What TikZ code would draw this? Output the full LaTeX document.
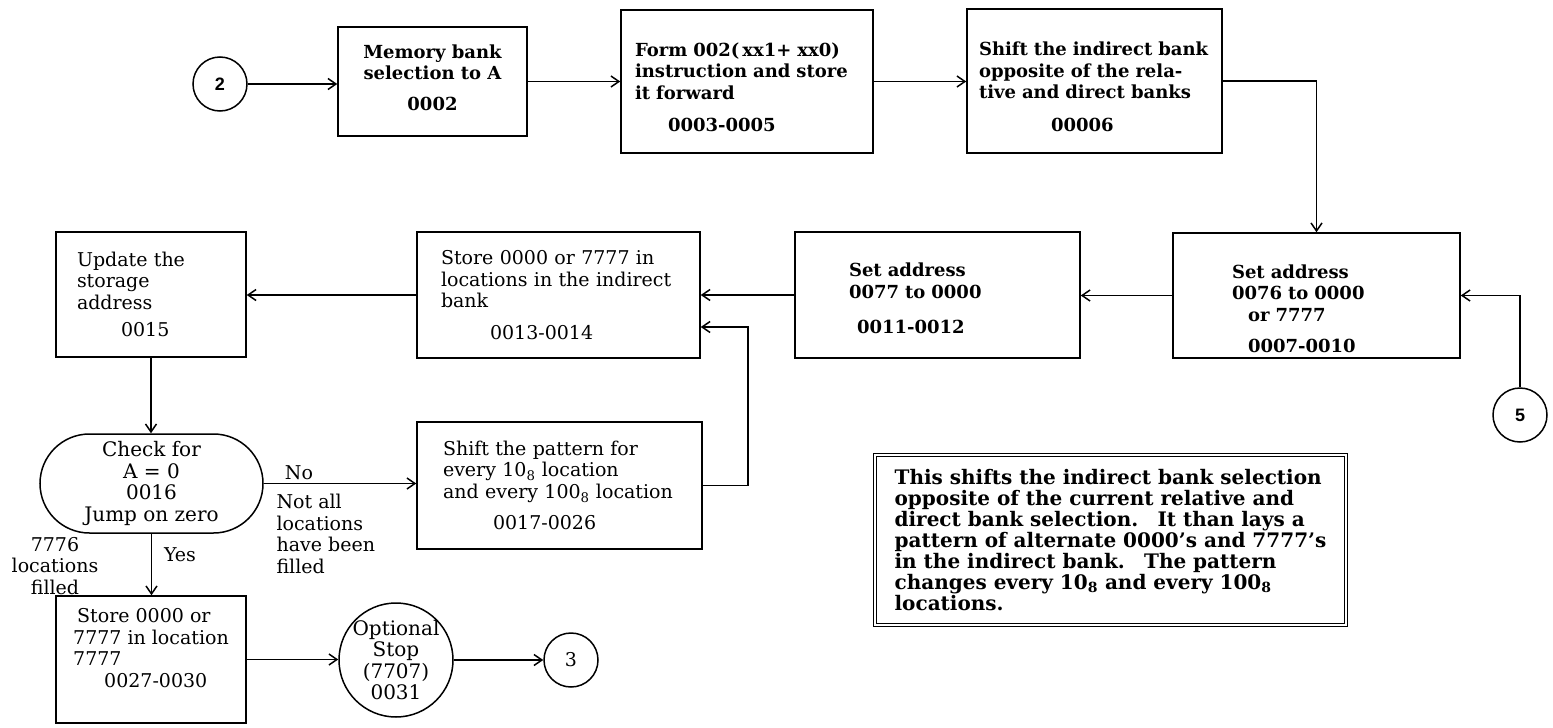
\documentclass[tikz,border=0pt]{standalone}
\usepackage{fontspec}
\setmainfont{DejaVu Serif}
\setsansfont{Liberation Sans}
\usetikzlibrary{arrows.meta,shapes.misc}
\begin{document}
\begin{tikzpicture}[x=1pt,y=-1pt,
    txt/.style={font=\fontsize{19}{21.5}\selectfont},
    btxt/.style={font=\bfseries\fontsize{18}{21.5}\selectfont},
    box/.style={draw,line width=1.5pt,inner sep=0pt,align=left,txt},
    bbox/.style={box,btxt},
    conn/.style={circle,draw,line width=1.5pt,minimum size=54pt,inner sep=0pt},
    flow/.style={line width=1.5pt,-{Straight Barb[length=8pt,width=11pt,line width=1.5pt]}}]
\useasboundingbox (0,0) rectangle (1553,728);
\node[conn,font=\sffamily\bfseries\fontsize{18}{18}\selectfont] (c2) at (220,84) {2};
\node[bbox,align=center,minimum width=189pt,minimum height=109pt,text depth=8.5pt] (mem) at (432.5,81.5) {Memory bank\\selection to A\\[9pt]0002};
\node[bbox,minimum width=252pt,minimum height=143pt,inner xsep=14pt,text width=224pt,text height=25pt] (form) at (747,81.5) {Form 002(\,xx1+ xx0)\\instruction and store\\it forward\\[11pt]\hspace*{33pt}0003-0005};
\node[bbox,minimum width=255pt,minimum height=144pt,inner xsep=12pt,text width=231pt,text height=25pt] (sh) at (1094.5,81) {Shift the indirect bank\\opposite of the rela-\\tive and direct banks\\[11pt]\hspace*{72pt}00006};
\node[bbox,minimum width=287pt,minimum height=125pt,inner xsep=59pt,text width=169pt,text height=40pt] (s76) at (1316.5,295.5) {Set address\\0076 to 0000\\\hspace*{16pt}or 7777\\[10pt]\hspace*{16pt}0007-0010};
\node[conn,font=\sffamily\bfseries\fontsize{18}{18}\selectfont] (c5) at (1520,415) {5};
\node[bbox,minimum width=285pt,minimum height=126pt,inner xsep=54pt,text width=177pt,text height=21pt] (s77) at (937.5,295) {Set address\\0077 to 0000\\[14pt]\hspace*{8pt}0011-0012};
\node[box,minimum width=283pt,minimum height=126pt,inner xsep=24pt,text width=235pt] (sto) at (558.5,295) {Store 0000 or 7777 in\\locations in the indirect\\bank\\[10pt]\hspace*{49pt}0013-0014};
\node[box,minimum width=190pt,minimum height=125pt,inner xsep=21pt,text width=148pt] (upd) at (151,294.5) {Update the\\storage\\address\\[6pt]\hspace*{44pt}0015};
\node[draw,rounded rectangle,line width=1.5pt,minimum width=223pt,minimum height=99pt,inner sep=0pt,align=center,font=\fontsize{20}{21.5}\selectfont] (chk) at (151.5,483.5) {Check for\\A = 0\\0016\\Jump on zero};
\node[box,minimum width=285pt,minimum height=127pt,inner xsep=26pt,text width=233pt] (pat) at (559.5,485.5) {Shift the pattern for\\every 10\textsubscript{8} location\\and every 100\textsubscript{8} location\\[10pt]\hspace*{50pt}0017-0026};
\node[box,minimum width=190pt,minimum height=127pt,text depth=23pt] (st7) at (151,659.5) {\hspace*{4pt}Store 0000 or\\7777 in location\\7777\\\hspace*{31pt}0027-0030};
\node[conn,minimum size=114pt,label={[font=\fontsize{20}{21.5}\selectfont,align=center]center:Optional\\Stop\\(7707)\\0031}] (opt) at (396,660) {};
\node[conn,txt] (c3) at (571,660) {3};
\node[txt] (no) at (299,473) {No};
\node[txt,align=left,anchor=west] (notall) at (273,534) {Not all\\locations\\have been\\filled};
\node[txt] (yes) at (180,555) {Yes};
\node[txt,align=center] (filled) at (55,566) {7776\\locations\\filled};
\node[draw,double,line width=1.2pt,double distance=2.5pt,align=left,minimum width=471pt,minimum height=170pt,inner sep=0pt,font=\bfseries\fontsize{20}{21}\selectfont] (note) at (1110.5,540) {This shifts the indirect bank selection\\opposite of the current relative and\\direct bank selection.\hspace{0.5em} It than lays a\\pattern of alternate 0000's and 7777's\\in the indirect bank.\hspace{0.5em} The pattern\\changes every 10\textsubscript{8} and every 100\textsubscript{8}\\locations.};
\draw[flow] (c2.east) -- (c2.east -| mem.west);
\draw[flow] (mem.east) -- (mem.east -| form.west);
\draw[flow] (form.east) -- (form.east -| sh.west);
\draw[flow] (sh.east) -| (s76.north);
\draw[flow] (c5.north) |- (s76.east);
\draw[flow] (s76.west) -- (s76.west -| s77.east);
\draw[flow] (s77.west) -- (s77.west -| sto.east);
\draw[flow] (sto.west) -- (sto.west -| upd.east);
\draw[flow] (upd.south) -- (upd.south |- chk.north);
\draw[flow] (chk.east) -- (chk.east -| pat.west);
\draw[flow] (pat.east) -- ++(45,0) |- ([yshift=-32pt]sto.east);
\draw[flow] (chk.south) -- (chk.south |- st7.north);
\draw[flow] (st7.east) -- (st7.east -| opt.west);
\draw[flow] (opt.east) -- (opt.east -| c3.west);
\end{tikzpicture}
\end{document}
